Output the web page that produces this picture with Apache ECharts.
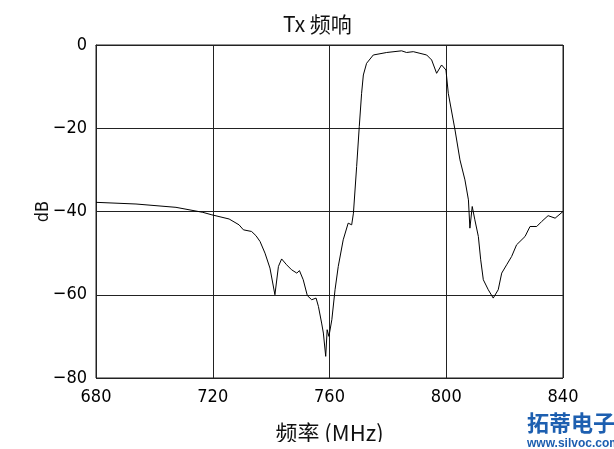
<!DOCTYPE html>
<html>
<head>
<meta charset="utf-8">
<script src="https://cdn.jsdelivr.net/npm/echarts@6/dist/echarts.min.js"></script>
<style>html,body{margin:0;padding:0;background:#fff;}#c{width:614px;height:449px;}</style>
</head>
<body>
<div id="c"></div>
<script>
const titleText = 'Tx 频响';
const xName = '频率 (MHz)';
const yName = 'dB';
const xTicks = [680, 720, 760, 800, 840];
const yTicks = [-80, -60, -40, -20, 0];
const freq = [680.0, 693.7, 707.4, 716.6, 719.7, 725.6, 729.0, 730.5, 733.3, 734.8, 736.2, 737.9, 739.6, 741.3,
  742.5, 743.6, 745.3, 747.0, 748.8, 749.7, 751.0, 752.4, 753.9, 755.4, 756.2, 757.3, 757.9, 758.7, 759.2, 759.8,
  760.8, 761.9, 763.0, 764.7, 766.4, 767.6, 768.2, 769.3, 770.2, 771.0, 771.6, 772.7, 775.0, 779.6, 784.7, 786.4,
  788.7, 791.0, 793.3, 795.0, 796.7, 798.4, 799.9, 800.7, 803.0, 804.7, 806.4, 807.6, 808.1, 808.9, 809.8, 811.0,
  811.8, 812.7, 814.4, 816.1, 817.8, 819.0, 820.7, 822.4, 824.1, 827.0, 828.7, 831.0, 832.7, 834.9, 837.3, 840.0];
const dB = [-37.8, -38.2, -39.0, -40.2, -40.8, -41.8, -43.2, -44.4, -44.8, -45.8, -47.2, -50.0, -53.6, -60.0,
  -53.2, -51.4, -52.8, -54.0, -54.8, -54.2, -56.4, -60.2, -61.2, -60.8, -62.8, -66.8, -69.2, -74.8, -68.4, -70.0,
  -66.0, -58.8, -53.2, -46.8, -42.8, -43.2, -40.4, -29.2, -19.6, -11.6, -7.2, -4.4, -2.4, -1.8, -1.4, -1.8,
  -1.6, -2.0, -2.4, -3.6, -6.8, -4.8, -6.0, -11.6, -20.4, -27.6, -32.4, -37.2, -44.0, -38.8, -42.0, -46.0,
  -51.6, -56.4, -58.8, -60.8, -58.8, -54.8, -52.8, -50.8, -48.0, -46.0, -43.6, -43.6, -42.4, -41.0, -41.6, -40.0];

const chart = echarts.init(document.getElementById('c'));
const labelFont = '"DejaVu Sans Condensed", "Liberation Sans Narrow", "Roboto", sans-serif';
chart.setOption({
  animation: false,
  backgroundColor: '#fff',
  title: {
    text: titleText, left: 278, top: 9,
    textStyle: { fontSize: 21, fontWeight: 'normal', color: '#111', fontFamily: '"Noto Sans CJK SC", sans-serif' }
  },
  grid: { left: 96, right: 51, top: 45, bottom: 71, show: true, borderColor: '#222', borderWidth: 1,
    containLabel: false, outerBoundsMode: 'none' },
  xAxis: {
    type: 'value', min: xTicks[0], max: xTicks[xTicks.length - 1], interval: 40,
    name: xName, nameLocation: 'middle', nameGap: 44, nameMoveOverlap: false,
    nameTextStyle: { fontSize: 22, color: '#111', fontFamily: '"Noto Sans CJK SC", sans-serif' },
    axisLine: { show: true, lineStyle: { color: '#222', width: 1 } },
    axisTick: { show: false },
    axisLabel: { fontSize: 18, color: '#000', margin: 10, fontFamily: labelFont },
    splitLine: { show: true, lineStyle: { color: '#222', width: 1 } }
  },
  yAxis: {
    type: 'value', min: yTicks[0], max: yTicks[yTicks.length - 1], interval: 20,
    name: yName, nameLocation: 'middle', nameGap: 44, nameMoveOverlap: false,
    nameTextStyle: { fontSize: 18, color: '#111', fontFamily: labelFont },
    axisLine: { show: true, lineStyle: { color: '#222', width: 1 } },
    axisTick: { show: false },
    axisLabel: { fontSize: 18, color: '#000', margin: 9, fontFamily: labelFont,
      formatter: v => String(v).replace('-', '\u2212') },
    splitLine: { show: true, lineStyle: { color: '#222', width: 1 } }
  },
  graphic: [
    { type: 'rect', left: 260, top: 442, z: 100, shape: { width: 170, height: 7 }, style: { fill: '#fff' } },
    { type: 'text', left: 527, top: 412, z: 101, style: { text: '拓蒂电子', fontSize: 22, fontWeight: 'bold', fill: '#1d5fb0', fontFamily: '"Noto Sans CJK SC", sans-serif' } },
    { type: 'text', left: 527, top: 438, z: 101, style: { text: 'www.silvoc.com', fontSize: 12, fontWeight: 'bold', fill: '#1d5fb0', fontFamily: '"Liberation Sans", sans-serif' } }
  ],
  series: [{
    type: 'line', symbol: 'none', smooth: false,
    lineStyle: { color: '#000', width: 1 },
    data: freq.map((f, i) => [f, dB[i]])
  }]
});
</script>
</body>
</html>
